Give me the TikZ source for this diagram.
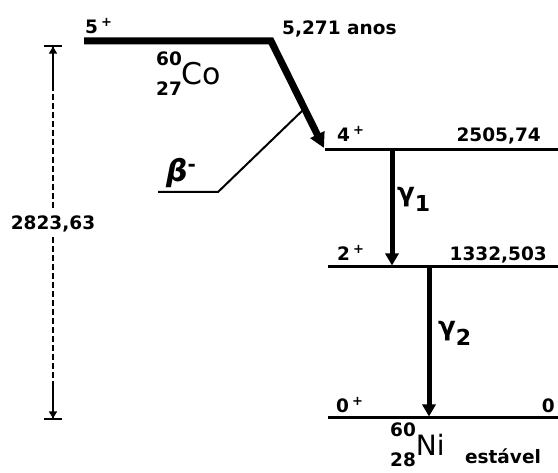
\documentclass[tikz,border=0pt]{standalone}
\usepackage{fontspec}
\setmainfont{DejaVu Sans}
\usetikzlibrary{arrows.meta, positioning, calc}
\tikzset{
  lvl/.style={line width=3pt},
  decay/.style={line width=7pt, line join=miter, -{Triangle[length=15pt,width=15pt]}},
  gam/.style={line width=5pt, -{Triangle[length=12pt,width=13pt]}},
  lbl/.style={inner sep=0pt, font=\fontsize{18.5}{20}\selectfont\bfseries},
  glbl/.style={inner sep=0pt, font=\fontsize{22}{24}\selectfont\bfseries},
  dim/.style={line width=1.6pt},
}
\newcommand{\spin}[2]{#1\hspace{3pt}\raisebox{7pt}{\fontsize{13}{13}\selectfont #2}}
\newcommand{\nuc}[4]{\rlap{\raisebox{19pt}{#1}}\raisebox{-11pt}{#2}{\mdseries\fontsize{#4}{#4}\selectfont #3}}
\newcommand{\gsym}{{\fontsize{26}{26}\selectfont γ}}

\begin{document}
\begin{tikzpicture}[x=1pt, y=-1pt]
  \path[use as bounding box] (0,0) rectangle (558,473);
  % levels
  \coordinate (co-l) at (84,41);   \coordinate (co-r) at (271,41);
  \coordinate (l4-l) at (325,150); \coordinate (l4-r) at (558,150);
  \coordinate (l2-l) at (328,267); \coordinate (l2-r) at (558,267);
  \coordinate (l0-l) at (328,418); \coordinate (l0-r) at (558,418);
  \draw[lvl] (l4-l) -- (l4-r);
  \draw[lvl] (l2-l) -- (l2-r);
  \draw[lvl] (l0-l) -- (l0-r);

  % beta branch
  \coordinate (b0) at ($(co-r)!0.62!(l4-l)$);
  \coordinate (b1) at (218,192);
  \coordinate (b2) at (158,192);
  \draw[line width=2pt] (b0) -- (b1) -- (b2);
  \draw[decay] (co-l) -- (co-r) -- (324,148);

  % gamma transitions
  \coordinate (g1a) at (392,150); \coordinate (g1b) at (392,265.5);
  \coordinate (g2a) at (429,267); \coordinate (g2b) at (429,416.5);
  \draw[gam] (g1a) -- (g1b);
  \draw[gam] (g2a) -- (g2b);

  % labels
  \node[lbl, anchor=base west] (s5) at (85,34) {\spin{5}{+}};
  \node[lbl, anchor=base west] (thalf) at (282,35) {5,271 anos};
  \node[lbl, anchor=base west] (co) at (156,85) {\nuc{60}{27}{Co}{30}};
  \node[lbl, anchor=base west] (s4) at (337,142) {\spin{4}{+}};
  \node[lbl, anchor=base east] (e4) at (541,142) {2505,74};
  \node[lbl, anchor=base west] (s2) at (337,261) {\spin{2}{+}};
  \node[lbl, anchor=base east] (e2) at (547,261) {1332,503};
  \node[lbl, anchor=base west] (s0) at (336,413) {\spin{0}{+}};
  \node[lbl, anchor=base east] (e0) at (555,413) {0};
  \node[glbl, anchor=base west] (gl1) at (397,202) {\gsym\raisebox{-10pt}{1}};
  \node[glbl, anchor=base west] (gl2) at (438,336) {\gsym\raisebox{-10pt}{2}};
  \node[inner sep=0pt, anchor=base west] (beta) at (166,182)
    {\fontsize{30}{30}\selectfont\bfseries\itshape β\raisebox{10pt}{\fontsize{20}{20}\selectfont\upshape -}};
  \node[lbl, anchor=base west] (ni) at (390,456) {\nuc{60}{28}{Ni}{28}};
  \node[lbl, anchor=base west, right=20pt of ni.base east] (stab) {estável};

  % total energy
  \coordinate (d-top) at (53,45);  \coordinate (d-t2) at (53,85);
  \coordinate (d-bot) at (53,420); \coordinate (d-b2) at (53,383);
  \node[lbl, inner ysep=5pt] (dlbl) at (53,224) {2823,63};
  \draw[dim, dashed, dash pattern=on 6pt off 3pt] (d-t2) -- (dlbl) (dlbl) -- (d-b2);
  \draw[dim, -{Triangle[length=7pt,width=8pt]Bar[width=18pt]}] (d-t2) -- (d-top);
  \draw[dim, -{Triangle[length=7pt,width=8pt]Bar[width=18pt]}] (d-b2) -- (d-bot);
\end{tikzpicture}
\end{document}
